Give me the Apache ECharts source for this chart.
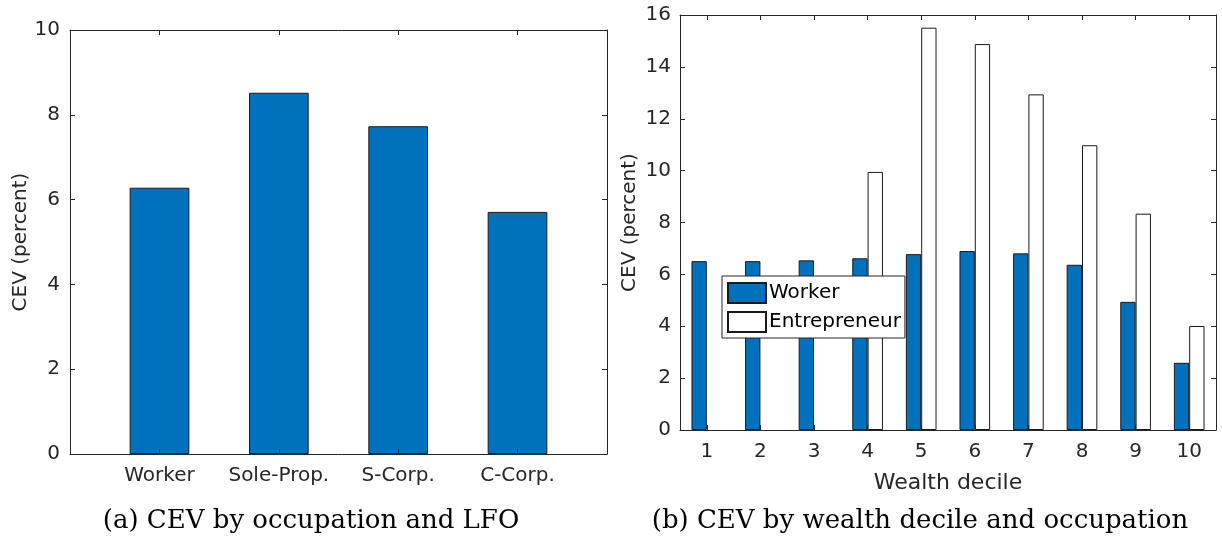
<!DOCTYPE html>
<html>
<head>
<meta charset="utf-8">
<script src="https://cdn.jsdelivr.net/npm/echarts@6/dist/echarts.min.js"></script>
<style>
  html, body { margin: 0; padding: 0; background: #fff; }
  #chart { width: 1222px; height: 546px; }
</style>
</head>
<body>
<div id="chart"></div>
<script>
// ---- data ----
const occupations = ['Worker', 'Sole-Prop.', 'S-Corp.', 'C-Corp.'];
const occupationCEV = [6.28, 8.52, 7.73, 5.71];
const deciles = ['1', '2', '3', '4', '5', '6', '7', '8', '9', '10'];
const workerCEV = [6.51, 6.51, 6.54, 6.62, 6.78, 6.90, 6.81, 6.37, 4.94, 2.59];
const entrepreneurCEV = [null, null, null, 9.95, 15.51, 14.88, 12.94, 10.98, 8.34, 4.01];
const occupationPositions = [1, 2, 3, 4];
const captionA = '(a) CEV by occupation and LFO';
const captionB = '(b) CEV by wealth decile and occupation';

// ---- layout ----
const gA = { left: 70, top: 30, width: 537, height: 424 };
const gB = { left: 680, top: 15, width: 536, height: 415 };
const axisColor = '#262626';
const sans = 'DejaVu Sans';
const lineStyle = { color: axisColor, width: 1 };
const tick = { show: true, inside: true, length: 5, lineStyle: lineStyle };
const labelStyle = { color: axisColor, fontFamily: sans, fontSize: 20 };

const chart = echarts.init(document.getElementById('chart'), null, { renderer: 'canvas' });

const option = {
  animation: false,
  backgroundColor: '#fff',
  grid: [
    Object.assign({ containLabel: false }, gA),
    Object.assign({ containLabel: false }, gB)
  ],
  xAxis: [
    {
      type: 'value', gridIndex: 0, position: 'bottom', min: 0.25, max: 4.75, z: 5,
      axisLine: { show: true, onZero: false, lineStyle: lineStyle },
      axisTick: Object.assign({ customValues: occupationPositions }, tick),
      axisLabel: Object.assign({
        customValues: occupationPositions, margin: 12,
        formatter: function (v) { return occupations[Math.round(v) - 1]; }
      }, labelStyle),
      splitLine: { show: false }
    },
    {
      type: 'value', gridIndex: 0, position: 'top', min: 0.25, max: 4.75, z: 5,
      axisLine: { show: true, onZero: false, lineStyle: lineStyle },
      axisTick: Object.assign({ customValues: occupationPositions }, tick),
      axisLabel: { show: false },
      splitLine: { show: false }
    },
    {
      type: 'category', gridIndex: 1, position: 'bottom', data: deciles, boundaryGap: true, z: 5,
      axisLine: { show: true, onZero: false, lineStyle: lineStyle },
      axisTick: Object.assign({ alignWithLabel: true }, tick),
      axisLabel: Object.assign({ margin: 12, interval: 0 }, labelStyle),
      name: 'Wealth decile', nameLocation: 'middle', nameGap: 42,
      nameTextStyle: { color: axisColor, fontFamily: sans, fontSize: 22 },
      splitLine: { show: false }
    },
    {
      type: 'category', gridIndex: 1, position: 'top', data: deciles, boundaryGap: true, z: 5,
      axisLine: { show: true, onZero: false, lineStyle: lineStyle },
      axisTick: Object.assign({ alignWithLabel: true }, tick),
      axisLabel: { show: false },
      splitLine: { show: false }
    }
  ],
  yAxis: [
    {
      type: 'value', gridIndex: 0, position: 'left', min: 0, max: 10, interval: 2, z: 5,
      axisLine: { show: true, onZero: false, lineStyle: lineStyle },
      axisTick: tick,
      axisLabel: Object.assign({ margin: 10 }, labelStyle),
      name: 'CEV (percent)', nameLocation: 'middle', nameGap: 38, nameRotate: 90,
      nameTextStyle: { color: axisColor, fontFamily: sans, fontSize: 20 },
      splitLine: { show: false }
    },
    {
      type: 'value', gridIndex: 0, position: 'right', min: 0, max: 10, interval: 2, z: 5,
      axisLine: { show: true, onZero: false, lineStyle: lineStyle },
      axisTick: tick,
      axisLabel: { show: false },
      splitLine: { show: false }
    },
    {
      type: 'value', gridIndex: 1, position: 'left', min: 0, max: 16, interval: 2, z: 5,
      axisLine: { show: true, onZero: false, lineStyle: lineStyle },
      axisTick: tick,
      axisLabel: Object.assign({ margin: 9 }, labelStyle),
      name: 'CEV (percent)', nameLocation: 'middle', nameGap: 40, nameRotate: 90,
      nameTextStyle: { color: axisColor, fontFamily: sans, fontSize: 20 },
      splitLine: { show: false }
    },
    {
      type: 'value', gridIndex: 1, position: 'right', min: 0, max: 16, interval: 2, z: 5,
      axisLine: { show: true, onZero: false, lineStyle: lineStyle },
      axisTick: tick,
      axisLabel: { show: false },
      splitLine: { show: false }
    }
  ],
  legend: {
    data: ['Worker', 'Entrepreneur'],
    orient: 'vertical',
    left: 722, top: 276,
    padding: [6, 4, 5, 5],
    itemGap: 7,
    itemWidth: 38, itemHeight: 20,
    icon: 'rect',
    z: 10,
    backgroundColor: '#fff',
    borderColor: axisColor, borderWidth: 1, borderRadius: 0,
    textStyle: { color: '#000', fontFamily: sans, fontSize: 20, lineHeight: 20, padding: [0, 0, 0, -2] }
  },
  series: [
    {
      type: 'bar', xAxisIndex: 0, yAxisIndex: 0,
      data: occupationCEV.map(function (v, i) { return [occupationPositions[i], v]; }),
      barWidth: gA.width / 4.5 * 0.5,
      itemStyle: { color: '#0072BD', borderColor: '#1a1a1a', borderWidth: 1 }
    },
    {
      type: 'bar', name: 'Worker', xAxisIndex: 2, yAxisIndex: 2,
      data: workerCEV,
      barWidth: gB.width / 10 * 0.286, barGap: '0%',
      itemStyle: { color: '#0072BD', borderColor: '#1a1a1a', borderWidth: 1 }
    },
    {
      type: 'bar', name: 'Entrepreneur', xAxisIndex: 2, yAxisIndex: 2,
      data: entrepreneurCEV,
      barWidth: gB.width / 10 * 0.286, barGap: '0%',
      itemStyle: { color: '#ffffff', borderColor: '#1a1a1a', borderWidth: 1 }
    }
  ],
  graphic: [
    {
      type: 'text', x: 311, y: 521,
      style: { text: captionA, font: '26px "DejaVu Serif"', fill: '#000', textAlign: 'center', textVerticalAlign: 'middle' }
    },
    {
      type: 'text', x: 920, y: 521,
      style: { text: captionB, font: '26px "DejaVu Serif"', fill: '#000', textAlign: 'center', textVerticalAlign: 'middle' }
    }
  ]
};

chart.setOption(option);
</script>
</body>
</html>
